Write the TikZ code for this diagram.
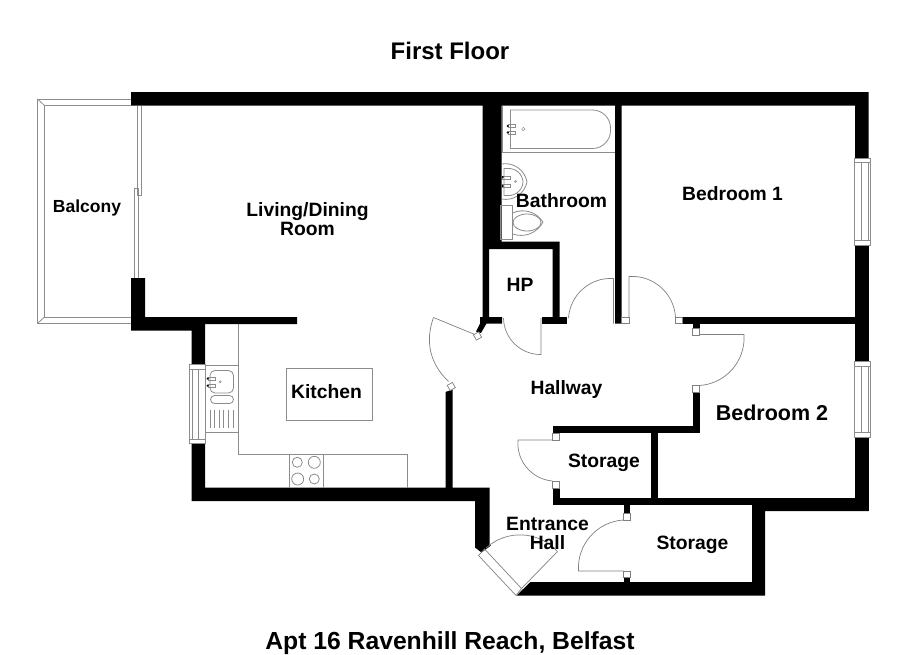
\documentclass[tikz,border=0pt]{standalone}
\usepackage{fontspec}
\setmainfont{Liberation Sans}
\tikzset{
	wall/.style={fill=black,draw=none},
	fixture/.style={draw=black!45,line width=0.8pt},
	doorline/.style={draw=black!50,line width=0.7pt},
	jamb/.style={draw=black!50,fill=white,line width=0.7pt},
	roomlabel/.style={font=\bfseries\fontsize{19.3}{19}\selectfont,align=center,inner sep=0pt},
	titlelabel/.style={font=\bfseries\fontsize{24}{26}\selectfont,inner sep=0pt}
}
\begin{document}
\begin{tikzpicture}[x=1pt,y=-1pt]
	\useasboundingbox (0,0) rectangle (900,654);
	
	% balcony
	\draw[fixture] (131,99) -- (37.5,99) -- (37.5,323.5) -- (131,323.5);
	\draw[fixture] (131,105.5) -- (44.5,105.5) -- (44.5,317) -- (131,317);
	\draw[fixture] (37.5,99) -- (44.5,105.5) (37.5,323.5) -- (44.5,317);
	\draw[fixture] (137.5,105.5) -- (137.5,195) -- (141,195) -- (141,105.5);
	\draw[fixture] (138,278) -- (138,188.5) -- (134.5,188.5) -- (134.5,278);
	
	% walls
	\fill[wall] (131,92) -- (868.5,92) -- (868.5,158) -- (855,158) -- (855,105.5) -- (621.5,105.5) -- (621.5,323.5) -- (615,323.5) -- (615,105.5) -- (501.5,105.5) -- (501.5,241.5) -- (559.5,241.5) -- (559.5,323.5) -- (552.5,323.5) -- (552.5,249) -- (489,249) -- (489,317) -- (482.5,317) -- (482.5,105.5) -- (131,105.5) -- cycle;
	\fill[wall] (855,245) rectangle (868.5,361.5);
	\fill[wall] (855,437) rectangle (868.5,511);
	\fill[wall] (682.5,317) rectangle (855,323.5);
	\fill[wall] (692.5,323.5) rectangle (699.5,328.5);
	\fill[wall] (692.5,392) rectangle (699.5,432.5);
	\fill[wall] (553,425.5) rectangle (699.5,432.5);
	\fill[wall] (650.5,432.5) rectangle (657.5,498);
	\fill[wall] (552.5,488) rectangle (559.5,504.5);
	\fill[wall] (552.5,498) rectangle (752,504.5);
	\fill[wall] (752,498) -- (868.5,498) -- (868.5,511) -- (765,511) -- (765,595.5) -- (516.5,595.5) -- (530.5,582) -- (752,582) -- cycle;
	\fill[wall] (623.5,504.5) rectangle (630,513.5);
	\fill[wall] (623.5,577.5) rectangle (630,582);
	\fill[wall] (131,278) -- (145,278) -- (145,317) -- (297,317) -- (297,324) -- (205,324) -- (205,364.5) -- (191.5,364.5) -- (191.5,330.5) -- (131,330.5) -- cycle;
	\fill[wall] (191.5,443) -- (205,443) -- (205,487.5) -- (445.5,487.5) -- (445.5,392) -- (452.5,389.5) -- (452.5,487.5) -- (489.5,487.5) -- (489.5,545) -- (491,545.5) -- (481.5,552.5) -- (475,547.5) -- (475,501) -- (191.5,501) -- cycle;
	\fill[wall] (480,317) -- (502,317) -- (502,323.5) -- (486.5,323.5) -- (481,333) -- (476,331.5) -- (480,323.5) -- cycle;
	\fill[wall] (542,317) rectangle (567,323.5);
	
	% windows
	\draw[fixture,fill=white] (189.5,364.5) rectangle (205,443);
	\draw[fixture] (192.5,369) rectangle (198.5,439);
	\draw[fixture] (189.5,369) -- (205,369) (189.5,439) -- (205,439);
	\draw[fixture,fill=white] (854.5,158) rectangle (870.5,245);
	\draw[fixture] (861.5,162) rectangle (868,240);
	\draw[fixture] (854.5,162) -- (870.5,162) (854.5,240) -- (870.5,240);
	\draw[fixture,fill=white] (854.5,361.5) rectangle (870.5,437);
	\draw[fixture] (861.5,366) rectangle (868,432);
	\draw[fixture] (854.5,366) -- (870.5,366) (854.5,432) -- (870.5,432);
	
	% bathroom
	\draw[fixture] (502.5,105.5) -- (502.5,152.5) -- (615,152.5);
	\draw[fixture,rounded corners=18pt] (510,110) -- (610.5,110) -- (610.5,148.5) -- (510,148.5);
	\draw[fixture] (510,110) -- (510,148.5);
	\draw[fixture,line width=0.5pt] (508,124.5) rectangle (515.5,127.5) (508,131) rectangle (515.5,134);
	\fill (507.7,126) circle (1.2pt) (507.7,132.5) circle (1.2pt);
	\draw[fixture,line width=0.5pt] (523.3,129) circle (1.7pt);
	\draw[fixture] (501.5,164) to[bend left=45] (527,182) to[bend left=45] (501.5,199);
	\draw[fixture] (504,168.5) -- (508,168.5) to[bend left=45] (523,182) to[bend left=45] (508,195.5) -- (504,195.5) -- cycle;
	\draw[fixture,line width=0.5pt] (502.5,176) rectangle (510,179) (502.5,184.5) rectangle (510,187.5);
	\fill (502.7,177) circle (1.2pt) (502.7,186) circle (1.2pt);
	\draw[fixture,line width=0.5pt] (515.5,181.5) circle (1pt);
	\draw[fixture] (512.5,213) to[bend left=40] (543,222) to[bend left=40] (512.5,234);
	\draw[fixture] (527,222.5) ellipse (14pt and 8.5pt);
	\draw[fixture] (500.5,205) rectangle (512.5,239);
	
	% kitchen
	\draw[fixture] (238.5,324) -- (238.5,454.5) -- (407.5,454.5) -- (407.5,487.5);
	\draw[fixture] (205,365.5) -- (238.5,365.5) (205,432.5) -- (238.5,432.5);
	\draw[fixture,rounded corners=5pt] (210,370.5) rectangle (233.5,393);
	\draw[fixture,rounded corners=4pt] (210.5,395.5) rectangle (233.5,403.5);
	\foreach \xdrain in {210,214.5,219,223.5,228,233}
		\draw[fixture,line width=0.5pt] (\xdrain,409.5) -- (\xdrain,427.5);
	\draw[fixture,line width=0.5pt] (208,377) rectangle (215,380) (208,384.5) rectangle (215,387.5);
	\fill (207.7,378.5) circle (1.2pt) (207.7,385.7) circle (1.2pt);
	\draw[fixture,line width=0.5pt] (220.3,381.7) circle (1pt);
	\draw[fixture] (286,368.5) rectangle (372.5,420.5);
	\draw[fixture] (289,454.5) -- (289,487.5) (323.5,454.5) -- (323.5,487.5);
	\draw[fixture] (297.3,462.3) circle (5pt) (314.3,462.3) circle (6pt) (297.7,479) circle (6pt) (314.3,479) circle (5pt);
	
	% doors
	\draw[doorline] (476,335) -- (433.5,317.5);
	\draw[doorline] (433.5,317.5) to[bend right=33] (448.5,381.5);
	\draw[jamb,rotate around={30:(477.5,336)}] (474.5,333) rectangle (480.5,339);
	\draw[jamb,rotate around={30:(451.3,386.5)}] (448.3,383.5) rectangle (454.3,389.5);
	\draw[doorline] (503.5,318) to[bend right=45] (541,354.5) -- (541,318);
	\draw[doorline] (568.5,318) to[bend left=45] (613.5,278.5) -- (613.5,323.5);
	\draw[jamb] (621.5,317) rectangle (629,323.5);
	\draw[doorline] (629,317) -- (629,276.5) to[bend left=45] (675.5,317);
	\draw[jamb] (675.5,317) rectangle (682.5,323.5);
	\draw[jamb] (692.5,328.5) rectangle (699.5,335);
	\draw[doorline] (699.5,334.5) -- (744,334.5) to[bend left=45] (699.5,385.5);
	\draw[jamb] (692.5,385.5) rectangle (699.5,392);
	\draw[jamb] (552.5,433) rectangle (559.5,440);
	\draw[doorline] (552.5,440) -- (518,440) to[bend right=45] (552.5,481);
	\draw[jamb] (552.5,481) rectangle (559.5,488);
	\draw[jamb] (623.5,513.5) rectangle (630,520);
	\draw[doorline] (623.5,520) to[bend right=45] (578.5,571) -- (623.5,571);
	\draw[jamb] (623.5,571) rectangle (630,577.5);
	\draw[doorline] (484.5,549) -- (521.5,588.5) -- (516,595.5) -- (478.5,555.5) -- cycle;
	\draw[doorline] (521.5,588.5) -- (557.5,551.5);
	\draw[doorline] (557.5,551.5) to[bend right=45] (486,548);
	
	% labels
	\node[titlelabel] (firstfloor) at (450,51) {First Floor};
	\node[titlelabel,font=\bfseries\fontsize{24.7}{26}\selectfont] (address) at (450,643) {Apt 16 Ravenhill Reach, Belfast};
	\node[roomlabel,font=\bfseries\fontsize{17.5}{19}\selectfont] (balcony) at (87,208) {Balcony};
	\node[roomlabel] (living) at (307.5,219.5) {Living/Dining\\Room};
	\node[roomlabel] (bathroom) at (561.5,200.5) {Bathroom};
	\node[roomlabel] (bedroom1) at (732.5,194) {Bedroom 1};
	\node[roomlabel] (hp) at (520,285) {HP};
	\node[roomlabel] (hallway) at (566.5,389.5) {Hallway};
	\node[roomlabel,font=\bfseries\fontsize{21.5}{22}\selectfont] (bedroom2) at (772,412.5) {Bedroom 2};
	\node[roomlabel] (kitchen) at (326.5,392) {Kitchen};
	\node[roomlabel] (storage1) at (604,462.5) {Storage};
	\node[roomlabel] (storage2) at (692.5,544.5) {Storage};
	\node[roomlabel] (entrance) at (547.5,533) {Entrance\\Hall};
\end{tikzpicture}
\end{document}
